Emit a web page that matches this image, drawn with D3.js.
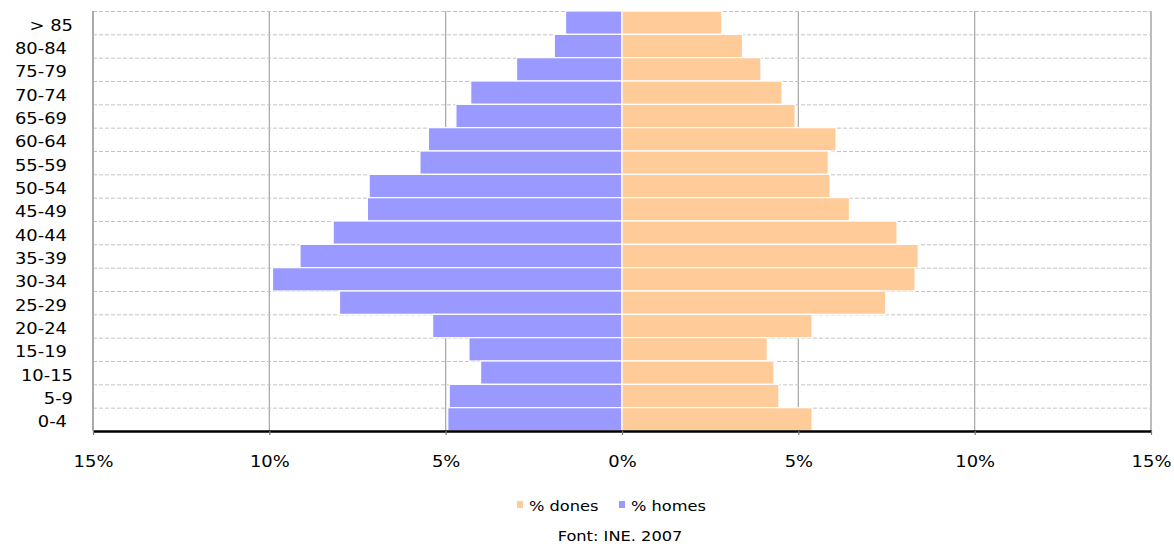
<!DOCTYPE html>
<html>
<head>
<meta charset="utf-8">
<script src="https://cdn.jsdelivr.net/npm/d3@7"></script>
<style>
  html, body { margin: 0; padding: 0; background: #fff; }
  svg { display: block; font-family: "DejaVu Sans", Verdana, sans-serif; }
</style>
</head>
<body>
<svg id="chart" width="1174" height="544"></svg>
<script>
// Population pyramid by age group (percent of total population)
const ageGroups = ["> 85", "80-84", "75-79", "70-74", "65-69", "60-64", "55-59",
  "50-54", "45-49", "40-44", "35-39", "30-34", "25-29", "20-24", "15-19",
  "10-15", "5-9", "0-4"];
const homes = [1.60, 1.92, 2.99, 4.29, 4.71, 5.49, 5.73, 7.17, 7.22, 8.19,
  9.13, 9.91, 8.01, 5.37, 4.34, 4.01, 4.90, 4.94];
const dones = [2.83, 3.42, 3.94, 4.54, 4.91, 6.07, 5.85, 5.90, 6.45, 7.80,
  8.40, 8.31, 7.48, 5.39, 4.12, 4.31, 4.45, 5.39];
const xTicks = [-15, -10, -5, 0, 5, 10, 15];
const seriesNames = ["% dones", "% homes"];
const source = "Font: INE. 2007";

const colDones = "#ffcc99";
const colHomes = "#9999ff";
const stretch = "scale(1.12,1)";

const svg = d3.select("#chart");
const margin = { left: 93, right: 23, top: 11, bottom: 113 };
const W = 1174, H = 544;

const x = d3.scaleLinear().domain([-15, 15]).range([margin.left, W - margin.right]);
const y = d3.scaleBand().domain(ageGroups).range([margin.top, H - margin.bottom]).padding(0);

// vertical grid lines
svg.append("g").selectAll("line")
  .data(xTicks.filter(d => d !== 0))
  .join("line")
  .attr("x1", d => x(d)).attr("x2", d => x(d))
  .attr("y1", y.range()[0]).attr("y2", y.range()[1])
  .attr("stroke", "#a6a6a6")
  .attr("stroke-width", d => Math.abs(d) === 15 ? 1.5 : 1.2);

// dashed horizontal lines at band boundaries
svg.append("g").selectAll("line")
  .data(ageGroups)
  .join("line")
  .attr("x1", x(-15)).attr("x2", x(15))
  .attr("y1", d => y(d) + 0.5).attr("y2", d => y(d) + 0.5)
  .attr("stroke", "#c4c4c4")
  .attr("stroke-width", 1)
  .attr("stroke-dasharray", "4,2");

// bars
const bars = svg.append("g");
bars.selectAll("rect.homes")
  .data(ageGroups)
  .join("rect")
  .attr("class", "homes")
  .attr("x", (d, i) => x(-homes[i]))
  .attr("width", (d, i) => x(0) - x(-homes[i]))
  .attr("y", d => y(d))
  .attr("height", y.bandwidth())
  .attr("fill", colHomes)
  .attr("stroke", "#fff")
  .attr("stroke-width", 1.2);
bars.selectAll("rect.dones")
  .data(ageGroups)
  .join("rect")
  .attr("class", "dones")
  .attr("x", x(0))
  .attr("width", (d, i) => x(dones[i]) - x(0))
  .attr("y", d => y(d))
  .attr("height", y.bandwidth())
  .attr("fill", colDones)
  .attr("stroke", "#fff")
  .attr("stroke-width", 1.2);

// x axis
const xAxis = svg.append("g")
  .attr("transform", `translate(0,${y.range()[1]})`)
  .call(d3.axisBottom(x).tickValues(xTicks).tickFormat(d => Math.abs(d) + "%").tickSize(4).tickSizeOuter(0));
xAxis.select(".domain").attr("stroke", "#000").attr("stroke-width", 2.5);
xAxis.selectAll(".tick line").attr("stroke", "#777").attr("stroke-width", 1.2);
xAxis.selectAll(".tick text")
  .attr("y", 36)
  .attr("dy", 0)
  .attr("transform", stretch)
  .attr("fill", "#000")
  .style("font-size", "16px")
  .style("font-family", "'DejaVu Sans', Verdana, sans-serif");

// y axis labels
const wideLabels = new Set(["> 85", "10-15", "5-9"]);
svg.append("g").selectAll("g")
  .data(ageGroups)
  .join("g")
  .attr("transform", d => `translate(${wideLabels.has(d) ? 73 : 67},${y(d) + y.bandwidth() / 2 + 8}) ${stretch}`)
  .append("text")
  .attr("text-anchor", "end")
  .style("font-size", "16px")
  .attr("fill", "#000")
  .text(d => d);

// left edge line
svg.append("line")
  .attr("x1", x(-15)).attr("x2", x(-15))
  .attr("y1", y.range()[0]).attr("y2", y.range()[1])
  .attr("stroke", "#a6a6a6").attr("stroke-width", 1.5);

// legend
const legend = svg.append("g");
const legendItems = [
  { name: seriesNames[0], color: colDones, x: 517 },
  { name: seriesNames[1], color: colHomes, x: 619 }
];
legendItems.forEach(it => {
  legend.append("rect")
    .attr("x", it.x).attr("y", 501).attr("width", 6).attr("height", 7)
    .attr("fill", it.color);
  legend.append("g")
    .attr("transform", `translate(${it.x + 12},511) ${stretch}`)
    .append("text")
    .style("font-size", "14.5px")
    .attr("fill", "#000")
    .text(it.name);
});

svg.append("g")
  .attr("transform", `translate(620,541) ${stretch}`)
  .append("text")
  .attr("text-anchor", "middle")
  .style("font-size", "14.5px")
  .attr("fill", "#000")
  .text(source);
</script>
</body>
</html>
